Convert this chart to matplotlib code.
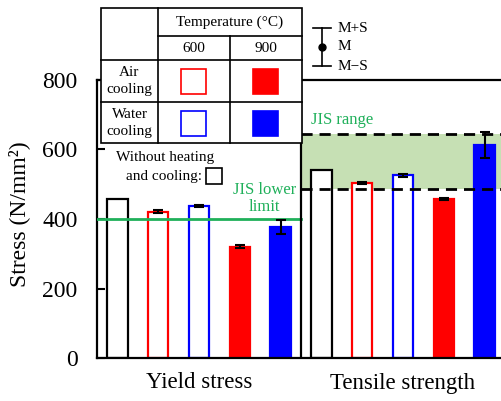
import matplotlib.pyplot as plt
import matplotlib.transforms as mtransforms
from matplotlib.patches import Rectangle
from matplotlib.lines import Line2D

plt.rcParams['font.family'] = ['Liberation Serif', 'DejaVu Serif']

# data
groups = ['Yield stress', 'Tensile strength']
conditions = ['none', 'air600', 'water600', 'air900', 'water900']
yield_mean = [457, 421, 437, 320, 377]
yield_sd = [0, 5, 3, 4, 19]
tensile_mean = [541, 503, 525, 458, 612]
tensile_sd = [0, 3, 4, 3, 36]
jis_lower = 400
jis_range = [485, 645]

edge_colors = ['black', 'red', 'blue', 'red', 'blue']
face_colors = ['white', 'white', 'white', 'red', 'blue']
green_line = '#1fb05a'
green_fill = '#c6e0b4'

W, H = 502, 401
fig = plt.figure(figsize=(W / 100, H / 100), dpi=100)


def fx(px):
    return px / W


def fy(py):
    return 1 - py / H


ax = fig.add_axes([fx(97), fy(358.3), 408 / W, (358.3 - 79.5) / H])

means = yield_mean + tensile_mean
sds = yield_sd + tensile_sd
xs = list(range(len(means)))
ecs = edge_colors * 2
fcs = face_colors * 2

ax.fill_between([4.5, 9.5], jis_range[0], jis_range[1], color=green_fill, lw=0, zorder=0)
for x, m, s, ec, fc in zip(xs, means, sds, ecs, fcs):
    ax.bar(x, m, width=0.5, color=fc, edgecolor=ec, linewidth=1.6, zorder=2)
    if s > 0:
        ax.errorbar(x, m, yerr=s, fmt='none', ecolor='black', elinewidth=1.5,
                    capsize=3.5, capthick=1.5, zorder=4)

ax.plot([-0.5, 4.5], [jis_lower, jis_lower], color=green_line, lw=2, zorder=3)
for v in jis_range:
    ax.plot([4.5, 9.5], [v, v], color='black', lw=2, ls=(0, (4, 2.5)), zorder=3)
ax.axvline(4.5, color='black', lw=1.6, zorder=5)

ax.set_xlim(-0.5, 9.5)
ax.set_ylim(0, 800)
ax.set_yticks([0, 200, 400, 600, 800])
ax.set_xticks([])
ax.tick_params(axis='y', direction='in', length=5.5, width=1.5, labelsize=17, pad=14)
for sp in ax.spines.values():
    sp.set_linewidth(1.6)
ax.spines['right'].set_visible(False)
ax.set_ylabel('Stress (N/mm\u00b2)', fontsize=17)
ax.yaxis.set_label_coords(-(97 - 30) / 408, (358.3 - 214) / 278.8)

trans = mtransforms.blended_transform_factory(ax.transData, ax.transAxes)
ylab = -(383 - 358.3) / (358.3 - 79.5)
ax.text(2, ylab, groups[0], transform=trans, ha='center', va='center', fontsize=16.5)
ax.text(7, ylab, groups[1], transform=trans, ha='center', va='center', fontsize=16.5)

ax.text(3.6, 412, 'JIS lower\nlimit', color=green_line, ha='center', va='bottom',
        multialignment='center', fontsize=12, linespacing=1.05, zorder=6)
ax.text(4.75, 660, 'JIS range', color=green_line, ha='left', va='bottom',
        fontsize=12, zorder=6)

# legend table (figure pixel coordinates)
tf = fig.transFigure
L, R, T, B = 101, 302, 8, 143
fig.add_artist(Rectangle((fx(L), fy(B)), fx(R) - fx(L), fy(T) - fy(B), transform=tf,
                         facecolor='white', edgecolor='black', lw=1.2, zorder=10))


def hline(y, x0, x1):
    fig.add_artist(Line2D([fx(x0), fx(x1)], [fy(y), fy(y)], transform=tf, color='black',
                          lw=1.2, zorder=11))


def vline(x, y0, y1):
    fig.add_artist(Line2D([fx(x), fx(x)], [fy(y0), fy(y1)], transform=tf, color='black',
                          lw=1.2, zorder=11))


hline(36, 158, R)
hline(60, L, R)
hline(102, L, R)
vline(158, T, B)
vline(230, 36, B)

fs = 11
fig.text(fx(230), fy(22), 'Temperature (°C)', ha='center', va='center', fontsize=fs, zorder=12)
fig.text(fx(194), fy(48), '600', ha='center', va='center', fontsize=fs, zorder=12)
fig.text(fx(266), fy(48), '900', ha='center', va='center', fontsize=fs, zorder=12)
fig.text(fx(129.5), fy(81), 'Air\ncooling', ha='center', va='center', fontsize=fs,
         linespacing=1.35, zorder=12)
fig.text(fx(129.5), fy(123), 'Water\ncooling', ha='center', va='center', fontsize=fs,
         linespacing=1.35, zorder=12)

sq = 25
for row_y, col in [(81, 'red'), (123, 'blue')]:
    for cx, filled in [(194, False), (266, True)]:
        fig.add_artist(Rectangle((fx(cx - sq / 2), fy(row_y + sq / 2)), sq / W, sq / H,
                                 transform=tf, facecolor=col if filled else 'white',
                                 edgecolor=col, lw=1.2, zorder=12))

fig.text(fx(165), fy(158), 'Without heating', ha='center', va='center', fontsize=fs, zorder=12)
fig.text(fx(164), fy(177), 'and cooling:', ha='center', va='center', fontsize=fs, zorder=12)
fig.add_artist(Rectangle((fx(206), fy(184)), 16 / W, 16 / H, transform=tf,
                         facecolor='white', edgecolor='black', lw=1.2, zorder=12))

# mean +/- sd key
fig.add_artist(Line2D([fx(322), fx(322)], [fy(28), fy(66)], transform=tf, color='black', lw=1.2))
hline(28, 313, 331)
hline(66, 313, 331)
fig.add_artist(Line2D([fx(322)], [fy(47)], transform=tf, marker='o', color='black',
                      markersize=5, lw=0))
fig.text(fx(338), fy(29), 'M+S', ha='left', va='center', fontsize=fs)
fig.text(fx(338), fy(47), 'M', ha='left', va='center', fontsize=fs)
fig.text(fx(338), fy(67), 'M\u2212S', ha='left', va='center', fontsize=fs)

fig.savefig('out.png', dpi=100)
